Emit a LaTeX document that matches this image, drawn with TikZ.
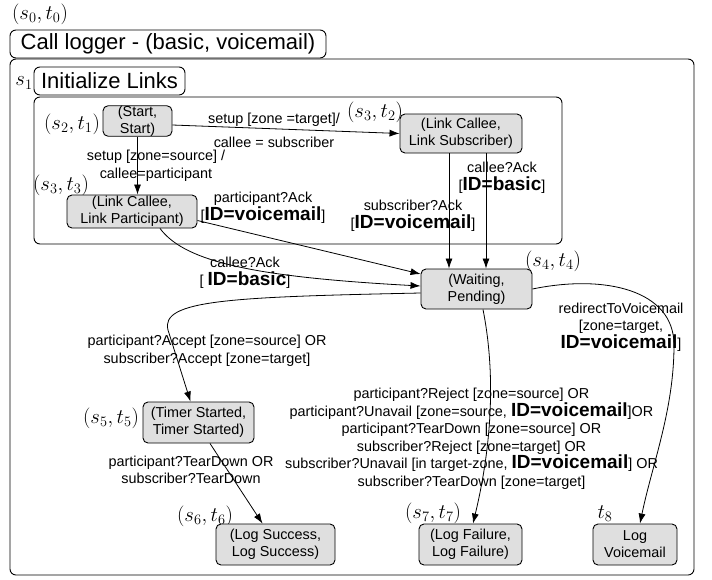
\documentclass[tikz,border=0pt]{standalone}
\usepackage[no-math]{fontspec}
\setmainfont{Liberation Sans}
\usetikzlibrary{arrows.meta}
\newcommand\BID[1]{{\fontsize{19}{19}\selectfont\bfseries #1}}
\begin{document}
\begin{tikzpicture}[x=1pt,y=-1pt,
  statebox/.style={draw, fill=gray!25, rounded corners=5pt, line width=0.9pt, align=center,
    font=\fontsize{14.4}{17}\selectfont, inner sep=0pt},
  lab/.style={align=center, font=\fontsize{14.4}{17.5}\selectfont, inner sep=0pt},
  ml/.style={inner sep=0pt, font=\fontsize{20}{20}\selectfont},
  arr/.style={-{Latex[length=10pt,width=7pt]}, line width=0.8pt},
  cont/.style={draw, rounded corners=6pt, line width=0.9pt},
  titlebox/.style={draw, rounded corners=6pt, line width=0.9pt, inner sep=0pt,
    font=\fontsize{22}{22}\selectfont}]
\useasboundingbox (0,0) rectangle (712,579);

% containers
\draw[cont] (10,59) rectangle (694,575);
\draw[cont] (34,97) rectangle (562,244);
\node[titlebox, minimum width=316pt, minimum height=28pt, fill=white] (title) at (168,44) {Call logger - (basic, voicemail)};
\node[titlebox, minimum width=151pt, minimum height=28pt] (init) at (109.5,81) {Initialize Links};

% math labels
\node[ml] (l0) at (40,14) {$(s_0,t_0)$};
\node[ml] (l1) at (24,83) {$s_1$};
\node[ml] (l2) at (72,124) {$(s_2,t_1)$};
\node[ml] (l3) at (61,185) {$(s_3,t_3)$};
\node[ml] (l4) at (375,112) {$(s_3,t_2)$};
\node[ml] (l5) at (553,261) {$(s_4,t_4)$};
\node[ml] (l6) at (111,418) {$(s_5,t_5)$};
\node[ml] (l7) at (205,516) {$(s_6,t_6)$};
\node[ml] (l8) at (433,513) {$(s_7,t_7)$};
\node[ml] (l9) at (605,514) {$t_8$};

% states
\node[statebox, minimum width=69pt, minimum height=30pt] (start) at (137.5,121) {(Start,\\Start)};
\node[statebox, minimum width=130pt, minimum height=33pt] (lpart) at (132,211.5) {(Link Callee,\\Link Participant)};
\node[statebox, minimum width=122pt, minimum height=39pt] (lsub) at (461,133.5) {(Link Callee,\\Link Subscriber)};
\node[statebox, minimum width=111pt, minimum height=40pt] (wait) at (476.5,289) {(Waiting,\\Pending)};
\node[statebox, minimum width=111pt, minimum height=41pt] (timer) at (198.5,422.5) {(Timer Started,\\Timer Started)};
\node[statebox, minimum width=119pt, minimum height=41pt] (succ) at (275.5,544.5) {(Log Success,\\Log Success)};
\node[statebox, minimum width=103pt, minimum height=41pt] (fail) at (470.5,544.5) {(Log Failure,\\Log Failure)};
\node[statebox, minimum width=84pt, minimum height=41pt] (vm) at (635,544.5) {Log\\Voicemail};

% helper coordinates
\coordinate (bendA) at (168,330);
\coordinate (bendB) at (674,345);

% edges
\draw[arr] ([yshift=-4pt]start.east) -- (lsub.west);
\draw[arr] (start.south) -- (start.south |- lpart.north);
\draw[arr] ([yshift=-9pt]lpart.east) -- ([yshift=15pt]wait.west);
\draw[arr] ([xshift=28pt]lpart.south) .. controls (185,262) and (255,277) .. ([yshift=3pt]wait.west);
\draw[arr] ([xshift=-12pt]lsub.south) -- ([xshift=-12pt]lsub.south |- wait.north);
\draw[arr] ([xshift=25pt]lsub.south) -- ([xshift=25pt]lsub.south |- wait.north);
\draw[arr] ([yshift=-4pt]wait.west) .. controls (230,297) and (160,300) .. (bendA) -- ([xshift=-8pt]timer.north);
\draw[arr] ([xshift=6.5pt]wait.south) .. controls (495,370) and (493,440) .. ([xshift=2.5pt]fail.north);
\draw[arr] (wait.east) .. controls (605,274) and (674,290) .. (bendB) .. controls (674,410) and (652,465) .. ([xshift=5pt]vm.north);
\draw[arr] ([xshift=11.5pt]timer.south) -- ([xshift=-13pt]succ.north);

% edge labels
\node[lab] (e1) at (274,130) {setup [zone =target]/\\[6.5pt]callee = subscriber};
\node[lab] (e2) at (156,166) {setup [zone=source] /\\callee=participant};
\node[lab] (e3) at (263,208) {participant?Ack\\{}[\BID{ID=voicemail}]};
\node[lab] (e4) at (245,273) {callee?Ack\\{}[ \BID{ID=basic}]};
\node[lab] (e5) at (502,178) {callee?Ack\\{}[\BID{ID=basic}]};
\node[lab] (e6) at (413,216) {subscriber?Ack\\{}[\BID{ID=voicemail}]};
\node[lab] (e7) at (207,351) {participant?Accept [zone=source] OR\\subscriber?Accept [zone=target]};
\node[lab] (e8) at (621,327) {redirectToVoicemail\\{}[zone=target,\\\BID{ID=voicemail}]};
\node[lab] (e9) at (471.5,439) {participant?Reject [zone=source] OR\\
participant?Unavail [zone=source, \BID{ID=voicemail}]OR\\
participant?TearDown [zone=source] OR\\
subscriber?Reject [zone=target] OR\\
subscriber?Unavail [in target-zone, \BID{ID=voicemail}] OR\\
subscriber?TearDown [zone=target]};
\node[lab] (e10) at (191,470) {participant?TearDown OR\\subscriber?TearDown};
\end{tikzpicture}
\end{document}
